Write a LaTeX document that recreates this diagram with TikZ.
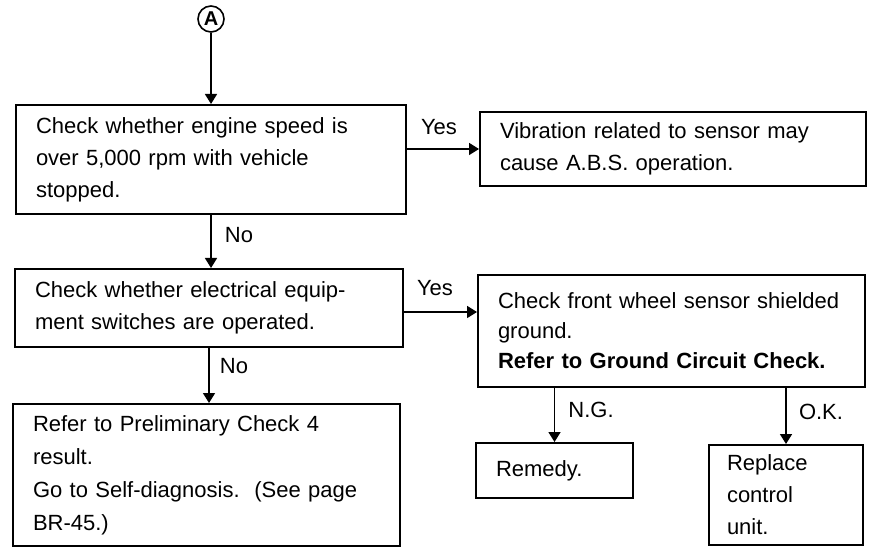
\documentclass[tikz,border=0pt]{standalone}
\usepackage{fontspec}
\setmainfont{Liberation Sans}
\usepackage{tikz}
\usetikzlibrary{arrows.meta,positioning,calc}
\tikzset{
  chkbox/.style={draw,line width=1pt,anchor=north west,align=left,
    inner xsep=10pt,inner ysep=0pt,font=\fontsize{11}{16}\selectfont},
  lbl/.style={inner sep=0pt,font=\fontsize{11}{13}\selectfont},
  conn/.style={circle,draw,line width=0.8pt,minimum size=13pt,inner sep=0pt,
    font=\fontsize{10}{10}\selectfont\bfseries},
  arrow/.style={-{Triangle[length=5pt,width=6pt]},line width=0.8pt}
}
\begin{document}
\begin{tikzpicture}[x=0.5pt,y=-0.5pt]
  \useasboundingbox (0,0) rectangle (876,549);
  % connector from previous page
  \node[conn] (conA) at (211,19) {A};
  % boxes
  \node[chkbox,text width=175pt,minimum height=54.5pt] (engine) at (15,104)
    {Check whether engine speed is\\over 5,000 rpm with vehicle\\stopped.};
  \node[chkbox,text width=173pt,minimum height=37pt] (vibration) at (479,111)
    {Vibration related to sensor may\\cause A.B.S. operation.};
  \node[chkbox,text width=174pt,minimum height=39pt] (switches) at (14,268)
    {Check whether electrical equip-\\ment switches are operated.};
  \node[chkbox,text width=173.5pt,minimum height=56pt,
    font=\fontsize{11}{15}\selectfont] (ground) at (477,274)
    {Check front wheel sensor shielded\\ground.\\\textbf{Refer to Ground Circuit Check.}};
  \node[chkbox,text width=173.5pt,minimum height=71pt,
    font=\fontsize{11}{16.5}\selectfont] (prelim) at (12,403)
    {Refer to Preliminary Check 4\\result.\\Go to Self-diagnosis.\ \ (See page\\BR-45.)};
  \node[chkbox,text width=58.5pt,minimum height=27.5pt] (remedy) at (475,442)
    {Remedy.};
  \node[chkbox,text width=59pt,minimum height=50pt,inner xsep=9pt] (replace) at (708,444)
    {Replace\\control\\unit.};
  % connectors
  \draw[arrow] (conA) -- (conA |- engine.north);
  \draw[arrow] (vibration.west -| engine.east) -- (vibration.west);
  \draw[arrow] (engine.south) -- (engine.south |- switches.north);
  \draw[arrow] ([yshift=-2pt]switches.east) -- ([yshift=-2pt]switches.east -| ground.west);
  \draw[arrow] (switches.south) -- (switches.south |- prelim.north);
  \draw[arrow] (remedy.north |- ground.south) -- (remedy.north);
  \draw[arrow] (replace.north |- ground.south) -- (replace.north);
  % labels
  \node[lbl] (yes1) at (439,127) {Yes};
  \node[lbl] (no1) at (239,235) {No};
  \node[lbl] (yes2) at (435,288) {Yes};
  \node[lbl] (no2) at (234,366) {No};
  \node[lbl] (ng) at (591,410) {N.G.};
  \node[lbl] (ok) at (821,412) {O.K.};
\end{tikzpicture}
\end{document}
